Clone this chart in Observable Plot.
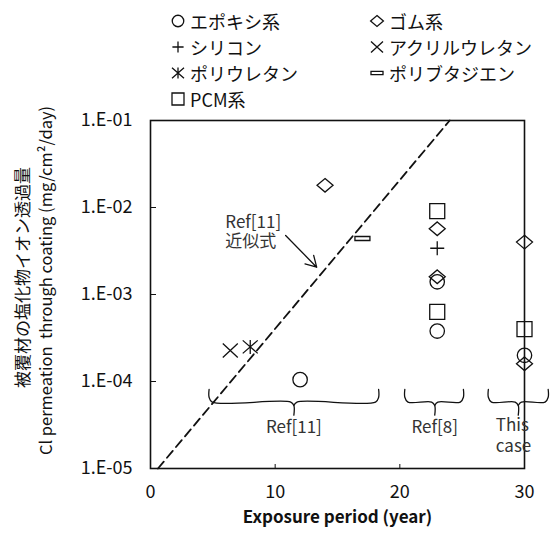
<!DOCTYPE html>
<html><head><meta charset="utf-8">
<script src="https://cdn.jsdelivr.net/npm/d3@7"></script>
<script src="https://cdn.jsdelivr.net/npm/@observablehq/plot@0.6"></script>
<style>
body{margin:0;background:#fff;font-family:"Noto Sans CJK JP",sans-serif;}
#wrap{position:relative;width:552px;height:534px;overflow:hidden;}
#legend{position:absolute;left:0;top:0;width:552px;height:115px;}
.item{position:absolute;height:26px;display:flex;align-items:center;font-size:18px;color:#111;white-space:nowrap;}
.item svg{margin-right:4px;}
</style></head><body><div id="wrap"><div id="chart"></div><div id="legend"></div></div>
<script>
// ---- data ----
const seriesNames = ["エポキシ系","ゴム系","シリコン","アクリルウレタン","ポリウレタン","ポリブタジエン","PCM系"];
const epoxyYears = [12, 23, 23, 30];
const epoxyValues = [1.05e-4, 1.4e-3, 3.8e-4, 2.0e-4];
const rubberYears = [14, 23, 23, 30, 30];
const rubberValues = [1.8e-2, 5.7e-3, 1.6e-3, 4.0e-3, 1.6e-4];
const siliconeYears = [23];
const siliconeValues = [3.4e-3];
const acrylicUrethaneYears = [6.4];
const acrylicUrethaneValues = [2.27e-4];
const polyurethaneYears = [8.0];
const polyurethaneValues = [2.5e-4];
const polybutadieneYears = [17.0];
const polybutadieneValues = [4.4e-3];
const pcmYears = [23, 23, 30];
const pcmValues = [9.1e-3, 6.3e-4, 4.0e-4];
// Ref[11] approximation line (endpoints)
const fitYears = [0.6, 24.0];
const fitValues = [1e-5, 1e-1];
// brace groups
const braceLabels = ["Ref[11]", "Ref[8]", "This\ncase"];
const braceStart = [4.7, 20.4, 27.1];
const braceEnd = [18.3, 25.1, 31.9];
const braceMid = [11.5, 22.8, 29.5];
// ticks
const xTicks = [0, 10, 20, 30];
const yTicks = [1e-5, 1e-4, 1e-3, 1e-2, 1e-1];
const yTickLabels = ["1.E-05", "1.E-04", "1.E-03", "1.E-02", "1.E-01"];
const yTitleJa = "被覆材の塩化物イオン透過量";
const yTitleEn = "Cl permeation  through coating (mg/cm²/day)";
const xTitle = "Exposure period (year)";
const fitLabel = "Ref[11]\n近似式";

// ---- symbols ----
const sym = f => ({draw(c, size){ const r = Math.sqrt(size / Math.PI); f(c, r / 7.5); }});
const circle = sym((c,k)=>{const r=7.2*k; c.moveTo(r,0); c.arc(0,0,r,0,2*Math.PI);});
const diamond = sym((c,k)=>{c.moveTo(0,-6.8*k); c.lineTo(8*k,0); c.lineTo(0,6.8*k); c.lineTo(-8*k,0); c.closePath();});
const plus = sym((c,k)=>{c.moveTo(-7*k,0); c.lineTo(7*k,0); c.moveTo(0,-7*k); c.lineTo(0,7*k);});
const times = sym((c,k)=>{c.moveTo(-7.5*k,-7*k); c.lineTo(7.5*k,7*k); c.moveTo(7.5*k,-7*k); c.lineTo(-7.5*k,7*k);});
const star = sym((c,k)=>{c.moveTo(-7.5*k,-6.5*k); c.lineTo(7.5*k,6.5*k); c.moveTo(7.5*k,-6.5*k); c.lineTo(-7.5*k,6.5*k); c.moveTo(0,-7*k); c.lineTo(0,7*k);});
const dash = sym((c,k)=>{c.rect(-7.5*k,-2*k,15*k,4*k);});
const square = sym((c,k)=>{c.rect(-7.5*k,-7.5*k,15*k,15*k);});
const symbols = [circle, diamond, plus, times, star, dash, square];

const series = [
  [epoxyYears, epoxyValues], [rubberYears, rubberValues], [siliconeYears, siliconeValues],
  [acrylicUrethaneYears, acrylicUrethaneValues], [polyurethaneYears, polyurethaneValues],
  [polybutadieneYears, polybutadieneValues], [pcmYears, pcmValues]
];
const points = series.flatMap(([xs, ys], s) => xs.map((x, i) => ({series: seriesNames[s], x, y: ys[i]})));
const fit = fitYears.map((x, i) => ({x, y: fitValues[i]}));

const bTop = 8.1e-5, bMid = 5.8e-5, bTip = 4.1e-5, bKnee = 6.6e-5, bTipKnee = 5.3e-5;
const braces = braceStart.flatMap((x0, i) => {
  const x1 = braceEnd[i], xm = braceMid[i];
  return [
    {z: i + "a", x: x0, y: bTop}, {z: i + "a", x: x0, y: bKnee}, {z: i + "a", x: x0 + 0.25, y: bMid},
    {z: i + "a", x: xm - 0.25, y: bMid}, {z: i + "a", x: xm, y: bTipKnee}, {z: i + "a", x: xm, y: bTip},
    {z: i + "b", x: x1, y: bTop}, {z: i + "b", x: x1, y: bKnee}, {z: i + "b", x: x1 - 0.25, y: bMid},
    {z: i + "b", x: xm + 0.25, y: bMid}, {z: i + "b", x: xm, y: bTipKnee}
  ];
});
const braceTextMid = braceLabels.slice(0, 2).map((t, i) => ({t, x: braceMid[i]}));
const braceTextLast = [{t: braceLabels[2], x: 27.7}];

const font = "'Noto Sans CJK JP', sans-serif";
const chart = Plot.plot({
  width: 552, height: 534,
  marginTop: 120, marginLeft: 150, marginRight: 28, marginBottom: 66,
  style: {fontFamily: font, fontSize: "18px", color: "#111", background: "white"},
  x: {domain: [0, 30]},
  y: {type: "log", domain: [1e-5, 1e-1]},
  symbol: {domain: seriesNames, range: symbols},
  marks: [
    Plot.frame({stroke: "#111", strokeWidth: 1.6}),
    Plot.axisX({ticks: xTicks, tickSize: -4, tickPadding: 21, tickFormat: d => String(d), label: null, fontSize: 18}),
    Plot.axisY({ticks: yTicks, tickSize: -6, tickPadding: 24, tickFormat: d => yTickLabels[yTicks.indexOf(d)], label: null, fontSize: 18}),
    Plot.line(fit, {x: "x", y: "y", stroke: "#111", strokeWidth: 1.8, strokeDasharray: "9,5"}),
    Plot.line(braces, {x: "x", y: "y", z: "z", stroke: "#111", strokeWidth: 1.3, curve: "catmull-rom"}),
    Plot.text(braceTextMid, {x: "x", y: 2.95e-5, text: "t", textAnchor: "middle", lineAnchor: "middle", fontSize: 17, fill: "#333"}),
    Plot.text(braceTextLast, {x: "x", y: 2.95e-5, text: "t", textAnchor: "start", lineAnchor: "top", dy: -11, fontSize: 17, lineHeight: 1.2, fill: "#333"}),
    Plot.text([fitLabel], {x: 6.0, y: 5.3e-3, text: d => d, textAnchor: "start", lineAnchor: "middle", fontSize: 17, lineHeight: 1.08, fill: "#333"}),
    Plot.arrow([0], {x1: 10.84, y1: 4.77e-3, x2: 13.33, y2: 2.06e-3, stroke: "#111", strokeWidth: 1.3, headLength: 14}),
    Plot.dot(points, {x: "x", y: "y", symbol: "series", r: 7.5, fill: "none", stroke: "#111", strokeWidth: 1.3}),
    Plot.text([yTitleJa], {text: d => d, frameAnchor: "left", textAnchor: "middle", dx: -127, dy: -17, rotate: -90, fontSize: 17, fill: "#111"}),
    Plot.text([yTitleEn], {text: d => d, frameAnchor: "left", textAnchor: "middle", dx: -104, dy: -14, rotate: -90, fontSize: 16.5, fill: "#111"}),
    Plot.text([xTitle], {text: d => d, frameAnchor: "bottom", dy: 54, fontSize: 17, fontWeight: "bold", fill: "#111"})
  ]
});
document.getElementById("chart").appendChild(chart);

// ---- legend ----
const legend = document.getElementById("legend");
const colX = [170, 369];
const rowY = [8, 34, 60, 86];
seriesNames.forEach((name, i) => {
  const col = i % 2, row = Math.floor(i / 2);
  const div = document.createElement("div");
  div.className = "item";
  div.style.left = colX[col] + "px";
  div.style.top = rowY[row] + "px";
  const s = d3.create("svg").attr("width", 16).attr("height", 16).attr("viewBox", "-8 -8 16 16");
  s.append("path").attr("d", d3.symbol(symbols[i], Math.PI * 36)()).attr("fill", "none").attr("stroke", "#111").attr("stroke-width", 1.3);
  div.appendChild(s.node());
  const span = document.createElement("span");
  span.textContent = name;
  div.appendChild(span);
  legend.appendChild(div);
});
</script></body></html>
